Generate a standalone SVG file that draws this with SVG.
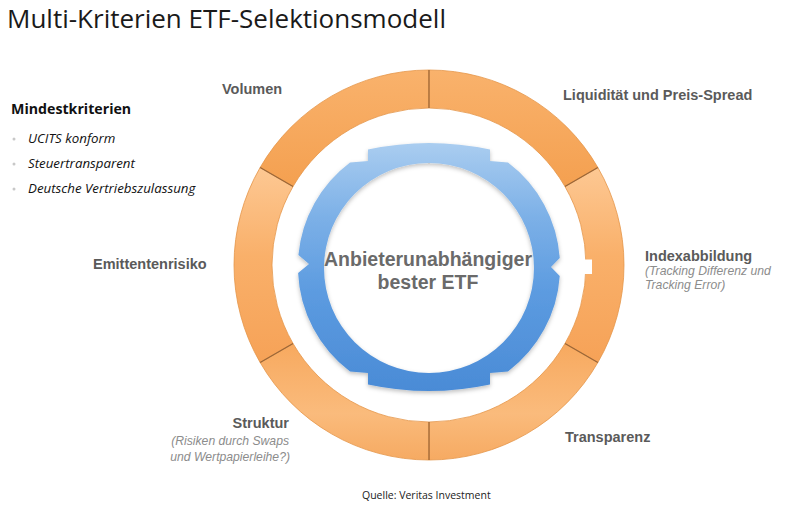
<svg xmlns="http://www.w3.org/2000/svg" width="800" height="510" viewBox="0 0 800 510">
<defs>
<style>
.title{font-family:"Open Sans",Lato,"Liberation Sans",sans-serif;font-size:26px;fill:#1a1a1a}
.head{font-family:"Open Sans",Lato,"Liberation Sans",sans-serif;font-size:14.2px;font-weight:bold;fill:#111}
.crit{font-family:"Open Sans",Lato,"Liberation Sans",sans-serif;font-size:13.3px;font-style:italic;fill:#111}
.lbl{font-family:"Liberation Sans",Arial,sans-serif;font-size:14.5px;font-weight:bold;fill:#5a5a5a}
.sub{font-family:"Liberation Sans",Arial,sans-serif;font-size:12.2px;font-style:italic;fill:#8c8c8c}
.center{font-family:"Liberation Sans",Arial,sans-serif;font-size:19.5px;font-weight:bold;fill:#6a6a6a;text-anchor:middle}
.src{font-family:"Open Sans",Lato,"Liberation Sans",sans-serif;font-size:10.5px;fill:#222}
.seg{stroke:#e59549;stroke-width:0.8}
.sep{stroke:#9a6638;stroke-width:1.2}
</style>
<linearGradient id="gTop" x1="0" y1="0" x2="0" y2="1">
<stop offset="0" stop-color="#f9b26c"/><stop offset="1" stop-color="#f4a050"/>
</linearGradient>
<linearGradient id="gSide" x1="0" y1="0" x2="0" y2="1">
<stop offset="0" stop-color="#fdc893"/><stop offset="0.45" stop-color="#f9b06a"/><stop offset="1" stop-color="#f6a257"/>
</linearGradient>
<linearGradient id="gBot" x1="0" y1="0" x2="0" y2="1">
<stop offset="0" stop-color="#f7a95f"/><stop offset="0.6" stop-color="#fabb7c"/><stop offset="1" stop-color="#f6aa62"/>
</linearGradient>
<linearGradient id="gBlue" x1="0" y1="143" x2="0" y2="392" gradientUnits="userSpaceOnUse">
<stop offset="0" stop-color="#aacdf0"/><stop offset="0.3" stop-color="#7cb0e7"/><stop offset="0.6" stop-color="#5c9be0"/><stop offset="1" stop-color="#4a8bd6"/>
</linearGradient>
<filter id="sh" x="-10%" y="-10%" width="120%" height="125%">
<feDropShadow dx="0" dy="2" stdDeviation="2" flood-color="#000" flood-opacity="0.25"/>
</filter>
</defs>
<rect width="800" height="510" fill="#ffffff"/>

<text class="title" x="7" y="28">Multi-Kriterien ETF-Selektionsmodell</text>

<g id="mindestkriterien">
<text class="head" x="11" y="114">Mindestkriterien</text>
<circle cx="14" cy="139" r="1.5" fill="#c8c8c8"/>
<circle cx="14" cy="164" r="1.5" fill="#c8c8c8"/>
<circle cx="14" cy="189" r="1.5" fill="#c8c8c8"/>
<text class="crit" x="28" y="143">UCITS konform</text>
<text class="crit" x="28" y="168">Steuertransparent</text>
<text class="crit" x="28" y="193">Deutsche Vertriebszulassung</text>
</g>

<g id="ring-outer">
<g id="seg-volumen"><path class="seg" fill="url(#gTop)" d="M260.13,167.5 A195,195 0 0 1 429,70 L429,108 A157,157 0 0 0 293.03,186.5 Z"/></g>
<g id="seg-liquiditaet"><path class="seg" fill="url(#gTop)" d="M429,70 A195,195 0 0 1 597.87,167.5 L564.97,186.5 A157,157 0 0 0 429,108 Z"/></g>
<g id="seg-index"><path class="seg" fill="url(#gSide)" d="M597.87,167.5 A195,195 0 0 1 597.87,362.5 L564.97,343.5 A157,157 0 0 0 564.97,186.5 Z"/></g>
<g id="seg-transparenz"><path class="seg" fill="url(#gBot)" d="M597.87,362.5 A195,195 0 0 1 429,460 L429,422 A157,157 0 0 0 564.97,343.5 Z"/></g>
<g id="seg-struktur"><path class="seg" fill="url(#gBot)" d="M429,460 A195,195 0 0 1 260.13,362.5 L293.03,343.5 A157,157 0 0 0 429,422 Z"/></g>
<g id="seg-emittent"><path class="seg" fill="url(#gSide)" d="M260.13,362.5 A195,195 0 0 1 260.13,167.5 L293.03,186.5 A157,157 0 0 0 293.03,343.5 Z"/></g>
<g id="separators">
<line class="sep" x1="429" y1="70" x2="429" y2="108"/>
<line class="sep" x1="597.87" y1="167.5" x2="564.97" y2="186.5"/>
<line class="sep" x1="597.87" y1="362.5" x2="564.97" y2="343.5"/>
<line class="sep" x1="429" y1="460" x2="429" y2="422"/>
<line class="sep" x1="260.13" y1="362.5" x2="293.03" y2="343.5"/>
<line class="sep" x1="260.13" y1="167.5" x2="293.03" y2="186.5"/>
</g>
<rect x="583" y="259.5" width="9" height="14.5" fill="#ffffff"/>
</g>

<g id="ring-inner">
<path filter="url(#sh)" fill="url(#gBlue)" fill-rule="evenodd" d="M298.1,273 L309,264 L298.4,255 A131,131 0 0 1 350,162.5 L368,161 L368,149.5 A290,290 0 0 1 490,149.5 L490,161 L508,162.5 A131,131 0 0 1 559.75,258 L551,267 L559.75,276 A131,131 0 0 1 508,371.5 L490,373 L490,384.5 A290,290 0 0 1 368,384.5 L368,373 L350,371.5 A131,131 0 0 1 298.1,273 Z M429,163 A105,105 0 1 0 429,373 A105,105 0 1 0 429,163 Z"/>
</g>

<g id="center-label">
<text class="center" x="428" y="266">Anbieterunabhängiger</text>
<text class="center" x="428" y="289">bester ETF</text>
</g>

<g id="label-volumen"><text class="lbl" x="222" y="94">Volumen</text></g>
<g id="label-liquiditaet"><text class="lbl" x="563" y="100">Liquidität und Preis-Spread</text></g>
<g id="label-index">
<text class="lbl" x="645" y="261">Indexabbildung</text>
<text class="sub" x="645" y="275">(Tracking Differenz und</text>
<text class="sub" x="645" y="289">Tracking Error)</text>
</g>
<g id="label-emittent"><text class="lbl" x="93" y="269">Emittentenrisiko</text></g>
<g id="label-struktur">
<text class="lbl" x="289" y="428" text-anchor="end">Struktur</text>
<text class="sub" x="289" y="445" text-anchor="end">(Risiken durch Swaps</text>
<text class="sub" x="290" y="461" text-anchor="end">und Wertpapierleihe?)</text>
</g>
<g id="label-transparenz"><text class="lbl" x="565" y="442">Transparenz</text></g>

<text class="src" x="362" y="499">Quelle: Veritas Investment</text>
</svg>
